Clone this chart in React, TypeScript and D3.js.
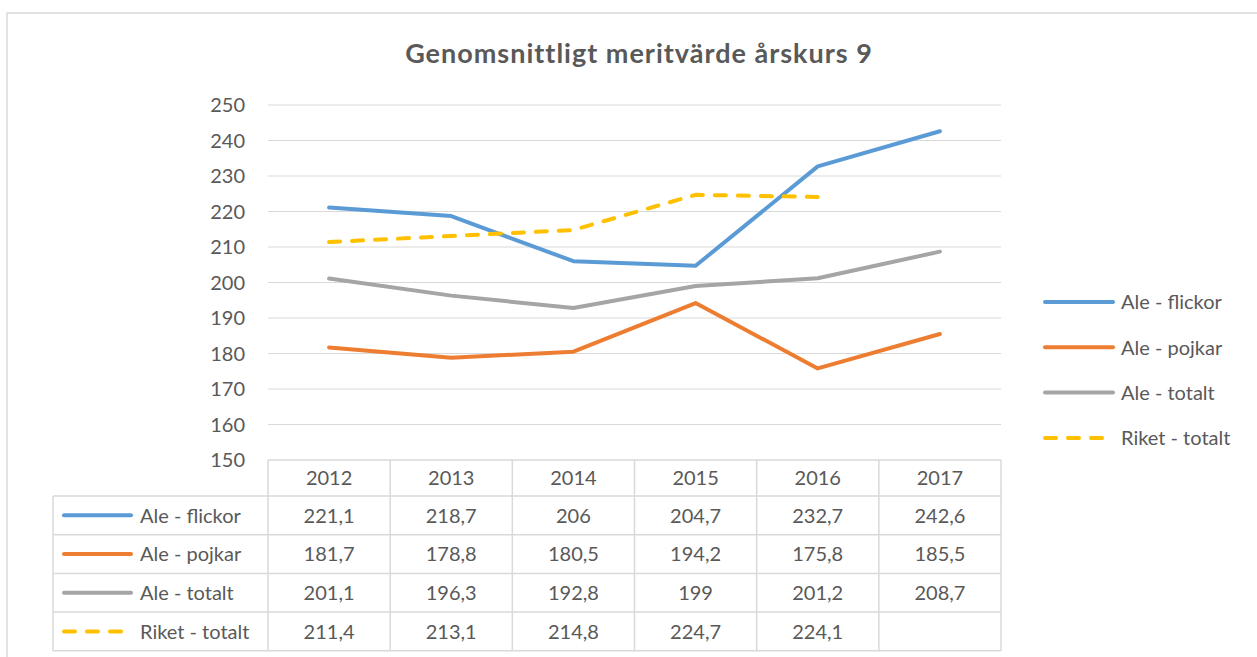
import React from 'react';
import * as d3 from 'd3';

const years = ['2012', '2013', '2014', '2015', '2016', '2017'];
const seriesNames = ['Ale - flickor', 'Ale - pojkar', 'Ale - totalt', 'Riket - totalt'];
const flickor = [221.1, 218.7, 206, 204.7, 232.7, 242.6];
const pojkar = [181.7, 178.8, 180.5, 194.2, 175.8, 185.5];
const totalt = [201.1, 196.3, 192.8, 199, 201.2, 208.7];
const riket: (number | null)[] = [211.4, 213.1, 214.8, 224.7, 224.1, null];
const yTicks = [150, 160, 170, 180, 190, 200, 210, 220, 230, 240, 250];

const colors = ['#5B9BD5', '#ED7D31', '#A5A5A5', '#FFC000'];
const dashed = [false, false, false, true];
const allValues = [flickor, pojkar, totalt, riket];

const W = 1257;
const H = 657;
const plotLeft = 268;
const plotRight = 1001;
const plotTop = 105;
const plotBottom = 460;
const headerH = 36;
const rowH = 38.7;
const tableLeft = 53;
const textColor = '#595959';
const gridColor = '#D9D9D9';
const font = 'Lato, "Open Sans", sans-serif';

const fmt = (v: number | null) => (v == null ? '' : String(v).replace('.', ','));

export default function App() {
  const x = d3.scaleBand().domain(years).range([plotLeft, plotRight]).padding(0);
  const y = d3.scaleLinear().domain([150, 250]).range([plotBottom, plotTop]);
  const cx = (yr: string) => (x(yr) as number) + x.bandwidth() / 2;

  const line = d3
    .line<number | null>()
    .defined((d) => d != null)
    .x((_, i) => cx(years[i]))
    .y((d) => y(d as number));

  const rowTop = (i: number) => plotBottom + headerH + i * rowH;
  const tableBottom = rowTop(seriesNames.length);

  return (
    <svg
      width={W}
      height={H}
      style={{ position: 'absolute', left: 0, top: 0, background: '#fff' }}
      fontFamily={font}
    >
      <rect x={7} y={13} width={W + 20} height={H + 20} fill="#fff" stroke={gridColor} strokeWidth={1.5} />

      <text x={639} y={63} textAnchor="middle" fontSize={27} fontWeight="bold" letterSpacing={1} fill={textColor}>
        Genomsnittligt meritvärde årskurs 9
      </text>

      {/* gridlines and y ticks */}
      {yTicks.map((t) => (
        <g key={t}>
          {t > 150 && (
            <line x1={plotLeft} x2={plotRight} y1={y(t)} y2={y(t)} stroke={gridColor} strokeWidth={1.2} />
          )}
          <text x={245} y={y(t)} dy="0.36em" textAnchor="end" fontSize={20} fill={textColor}>
            {t}
          </text>
        </g>
      ))}

      {/* data table */}
      <g stroke={gridColor} strokeWidth={1.5}>
        <line x1={plotLeft} x2={plotRight} y1={plotBottom} y2={plotBottom} />
        {seriesNames.map((_, i) => (
          <line key={i} x1={tableLeft} x2={plotRight} y1={rowTop(i)} y2={rowTop(i)} />
        ))}
        <line x1={tableLeft} x2={plotRight} y1={tableBottom} y2={tableBottom} />
        <line x1={tableLeft} x2={tableLeft} y1={rowTop(0)} y2={tableBottom} />
        {years.map((yr) => (
          <line key={yr} x1={x(yr)} x2={x(yr)} y1={plotBottom} y2={tableBottom} />
        ))}
        <line x1={plotRight} x2={plotRight} y1={plotBottom} y2={tableBottom} />
      </g>
      {years.map((yr) => (
        <text key={yr} x={cx(yr)} y={plotBottom + headerH / 2} dy="0.36em" textAnchor="middle" fontSize={20} fill={textColor}>
          {yr}
        </text>
      ))}
      {seriesNames.map((name, i) => {
        const my = rowTop(i) + rowH / 2;
        return (
          <g key={name}>
            <line
              x1={64}
              x2={131}
              y1={my}
              y2={my}
              stroke={colors[i]}
              strokeWidth={4}
              strokeLinecap="round"
              strokeDasharray={dashed[i] ? '11 12' : undefined}
            />
            <text x={140} y={my} dy="0.36em" fontSize={20} fill={textColor}>
              {name}
            </text>
            {allValues[i].map((v, j) => (
              <text key={j} x={cx(years[j])} y={my} dy="0.36em" textAnchor="middle" fontSize={20} fill={textColor}>
                {fmt(v)}
              </text>
            ))}
          </g>
        );
      })}

      {/* series lines */}
      {allValues.map((vals, i) => (
        <path
          key={i}
          d={line(vals) || ''}
          fill="none"
          stroke={colors[i]}
          strokeWidth={4}
          strokeLinejoin="round"
          strokeLinecap="round"
          strokeDasharray={dashed[i] ? '11 12' : undefined}
        />
      ))}

      {/* legend */}
      {seriesNames.map((name, i) => {
        const ly = 302 + i * 45.3;
        return (
          <g key={name}>
            <line
              x1={1045}
              x2={1113}
              y1={ly}
              y2={ly}
              stroke={colors[i]}
              strokeWidth={4}
              strokeLinecap="round"
              strokeDasharray={dashed[i] ? '11 12' : undefined}
            />
            <text x={1121} y={ly} dy="0.36em" fontSize={20} fill={textColor}>
              {name}
            </text>
          </g>
        );
      })}
    </svg>
  );
}
